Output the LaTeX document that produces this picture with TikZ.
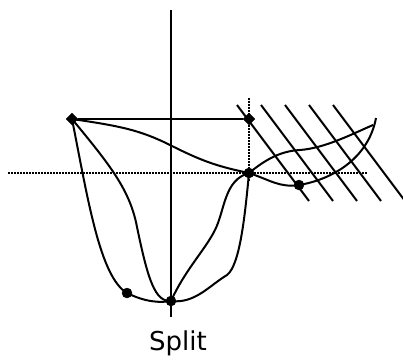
\documentclass[tikz,border=0pt]{standalone}
\usepackage{fontspec}
\setmainfont{DejaVu Sans}
\usetikzlibrary{shapes.geometric}
\tikzset{
  corner/.style={draw, diamond, fill=black, inner sep=0pt, minimum size=12pt},
  knot/.style={draw, circle, fill=black, inner sep=0pt, minimum size=10pt},
  curve/.style={line width=2pt},
  guide/.style={line width=1.4pt, dash pattern=on 1.5pt off 1.5pt}
}
\begin{document}
\begin{tikzpicture}[x=1pt, y=-1pt]
	\useasboundingbox (0,0) rectangle (403,360);
	% axes and guides
	\coordinate (top) at (171,10);
	\coordinate (bot) at (171,317);
	\coordinate (west) at (8,173);
	\coordinate (east) at (367,173);
	\coordinate (up) at (249,98);
	\coordinate (down) at (249,182);
	\draw[guide] (west) -- (east);
	\draw[guide] (up) -- (down);
	\draw[line width=2pt] (top) -- (bot);
	% hatching
	\foreach \dx in {0,24,48,72,96} {
		\draw[curve] (237+\dx,105) -- (309+\dx,201);
	}
	% points
	\node[corner] (lt) at (72,119) {};
	\node[corner] (rt) at (249,119) {};
	\node[knot] (a) at (249,173) {};
	\node[knot] (b) at (299,185) {};
	\node[knot] (c) at (171,301) {};
	\node[knot] (d) at (127,293) {};
	\coordinate (tip) at (376,118);
	\draw[curve] (lt) -- (rt);
	% curves
	\draw[curve] (lt.center) .. controls (120,126) and (140,130) .. (170,145)
		.. controls (200,160) and (215,166) .. (a.center)
		.. controls (270,180) and (280,188) .. (b.center)
		.. controls (330,180) and (368,160) .. (tip);
	\draw[curve] (a.center) .. controls (265,160) and (280,151) .. (300,150)
		.. controls (325,148) and (350,135) .. (373,125);
	\draw[curve] (lt.center) .. controls (88,200) and (100,277) .. (d.center)
		.. controls (145,302) and (160,303) .. (c.center);
	\draw[curve] (lt.center) .. controls (110,165) and (130,190) .. (137,227)
		.. controls (148,280) and (155,302) .. (c.center);
	\draw[curve] (c.center) .. controls (185,270) and (205,250) .. (215,230)
		.. controls (225,210) and (224,180) .. (a.center);
	\draw[curve] (c.center) .. controls (195,304) and (210,285) .. (227,275)
		.. controls (240,265) and (245,215) .. (a.center);
	\node (cap) at (178,343) {\fontsize{26}{30}\selectfont Split};
\end{tikzpicture}
\end{document}
